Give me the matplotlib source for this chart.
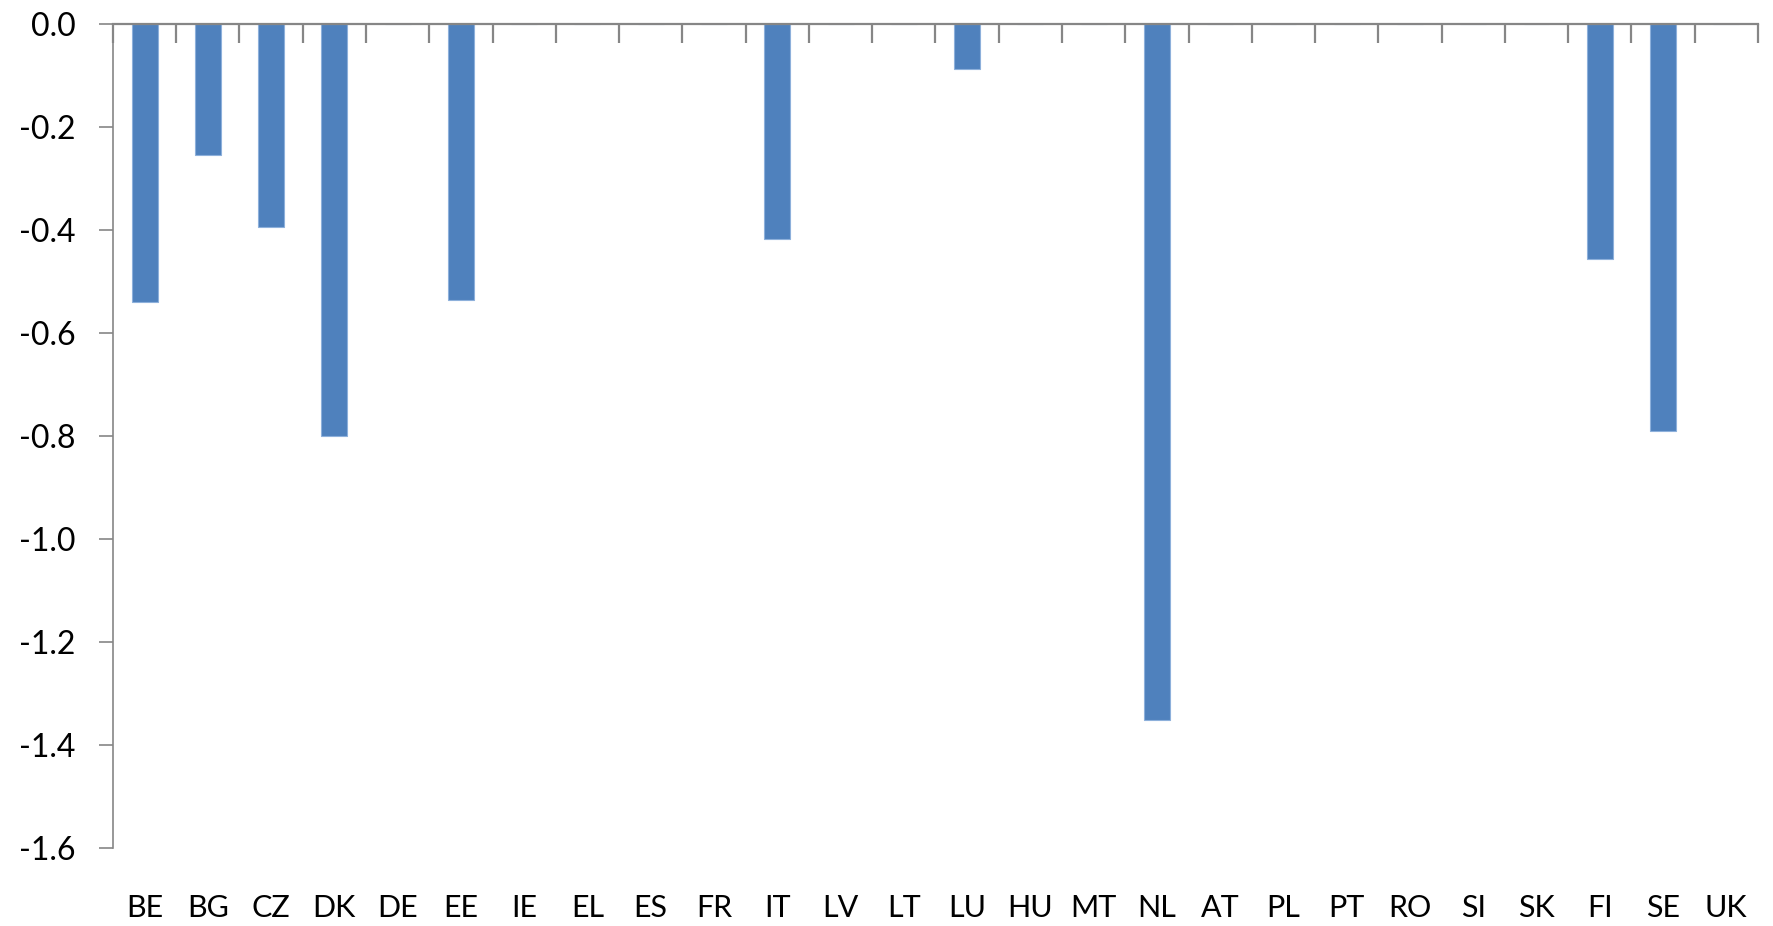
import numpy as np
import matplotlib
matplotlib.use("Agg")
import matplotlib.pyplot as plt

plt.rcParams['font.family'] = ['Lato', 'DejaVu Sans']
plt.rcParams['axes.unicode_minus'] = False

countries = ['BE', 'BG', 'CZ', 'DK', 'DE', 'EE', 'IE', 'EL', 'ES', 'FR', 'IT', 'LV', 'LT', 'LU',
             'HU', 'MT', 'NL', 'AT', 'PL', 'PT', 'RO', 'SI', 'SK', 'FI', 'SE', 'UK']
values = [-0.54, -0.255, -0.395, -0.80, 0.0, -0.535, 0.0, 0.0, 0.0, 0.0, -0.417, 0.0, 0.0, -0.088,
          0.0, 0.0, -1.352, 0.0, 0.0, 0.0, 0.0, 0.0, 0.0, -0.457, -0.79, 0.0]
yticks = [0.0, -0.2, -0.4, -0.6, -0.8, -1.0, -1.2, -1.4, -1.6]

axis_grey = '#868686'

fig = plt.figure(figsize=(17.73, 9.26), dpi=100)
ax = fig.add_axes([0.0637, 0.0842, 0.9278, 0.8898])

x = np.arange(len(countries))
ax.bar(x, values, width=0.41, color='#4F81BD', edgecolor='#8DB0DB', linewidth=0.8, zorder=2)

ax.set_xlim(-0.5, len(countries) - 0.5)
ax.set_ylim(-1.6, 0.0)

# zero line is the top spine; category separators hang down from it
for side in ['bottom', 'right']:
    ax.spines[side].set_visible(False)
ax.spines['top'].set_color(axis_grey)
ax.spines['top'].set_linewidth(1.6)
ax.spines['left'].set_color(axis_grey)
ax.spines['left'].set_linewidth(1.2)

ax.set_xticks(x)
ax.set_xticklabels(countries)
ax.set_xticks(np.arange(-0.5, len(countries), 1.0), minor=True)
ax.tick_params(axis='x', which='major', length=0, labelsize=22, pad=33, colors='black')
ax.tick_params(axis='x', which='minor', top=True, bottom=False, direction='in',
               length=14, width=1.6, color=axis_grey)

ax.set_yticks(yticks)
ax.set_yticklabels([f'{v:.1f}' for v in yticks])
ax.tick_params(axis='y', which='major', direction='out', length=10, width=1.2,
               color=axis_grey, labelsize=23, pad=17)

fig.savefig('out.png', dpi=100, facecolor='white')
